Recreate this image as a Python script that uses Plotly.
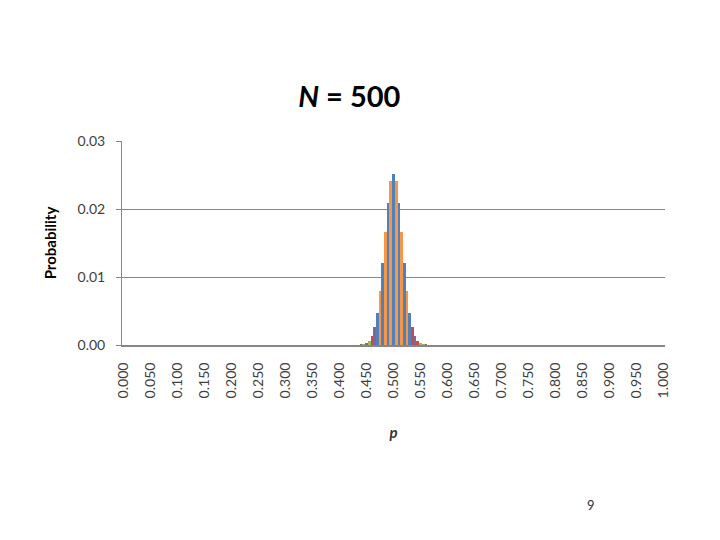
import plotly.graph_objects as go

# Categories: p from 0.000 to 1.000 in steps of 0.005
categories = [f"{i * 0.005:.3f}" for i in range(201)]

# Non-zero probabilities (p = 0.440 ... 0.560)
central_start = "0.440"
central_values = [
    0.00003, 0.00009, 0.00024, 0.00058, 0.0013, 0.0026, 0.0047, 0.0079,
    0.0120, 0.0166, 0.0209, 0.0241, 0.0252, 0.0241, 0.0209, 0.0166,
    0.0120, 0.0079, 0.0047, 0.0026, 0.0013, 0.00058, 0.00024, 0.00009, 0.00003,
]

tick_labels = categories[::10]

# assemble full series
start_idx = categories.index(central_start)
values = [0.0] * len(categories)
for k, v in enumerate(central_values):
    values[start_idx + k] = v

# styling (per-bar colours, Excel palette)
BLUE, RED, GREEN, PURPLE, ORANGE = "#4F81BD", "#C0504D", "#9BBB59", "#8064A2", "#F79646"
central_colors = [PURPLE, GREEN, PURPLE, GREEN, RED, PURPLE, BLUE, ORANGE, BLUE,
                  ORANGE, BLUE, ORANGE, BLUE, ORANGE, BLUE, ORANGE, BLUE, ORANGE,
                  BLUE, RED, PURPLE, RED, GREEN, GREEN, PURPLE]
colors = [BLUE] * len(categories)
for k, c in enumerate(central_colors):
    colors[start_idx + k] = c

fig = go.Figure(go.Bar(
    x=categories, y=values,
    marker=dict(color=colors, line=dict(width=0)),
    hoverinfo="x+y",
))

font_family = "Lato, 'Open Sans', 'Liberation Sans', sans-serif"

# page has an 8px body margin; plot area targets x 122..665, y 141..345
fig.update_layout(
    width=720, height=540,
    margin=dict(l=114, r=63, t=133, b=203),
    paper_bgcolor="white", plot_bgcolor="white",
    bargap=0,
    showlegend=False,
    font=dict(family=font_family, color="#404040", size=12),
    title=dict(
        text="<b><i>N</i> = 500</b>",
        x=0.474, xanchor="center", y=1 - (97 - 8) / 540, yanchor="middle",
        font=dict(size=29, color="black", family=font_family),
    ),
)

fig.update_xaxes(
    type="category",
    tickmode="array", tickvals=tick_labels, ticktext=tick_labels,
    tickangle=-90,
    range=[-0.5, len(categories) - 0.5],
    showline=True, linecolor="#868686", linewidth=2,
    showgrid=False, ticks="",
    ticklabelstandoff=10,
    tickfont=dict(size=14, color="#404040"),
    title=dict(text="<b><i>p</i></b>", font=dict(size=15, color="#333333"), standoff=30),
)

fig.update_yaxes(
    range=[0, 0.03],
    tickvals=[0, 0.01, 0.02, 0.03],
    ticktext=["0.00", "0.01", "0.02", "0.03"],
    showline=True, linecolor="#868686", linewidth=1,
    ticks="outside", ticklen=5, tickcolor="#868686",
    ticklabelstandoff=8,
    showgrid=True, gridcolor="#868686", gridwidth=1,
    zeroline=False,
    tickfont=dict(size=14, color="#404040"),
    title=dict(text="<b>Probability</b>", font=dict(size=15, color="black"), standoff=17),
)

fig.add_annotation(
    text="9", xref="paper", yref="paper",
    x=(597 - 122) / (665 - 122), y=-(515 - 345) / (345 - 141),
    showarrow=False, font=dict(size=13, color="#333333"),
)

fig.write_html("out.html")
